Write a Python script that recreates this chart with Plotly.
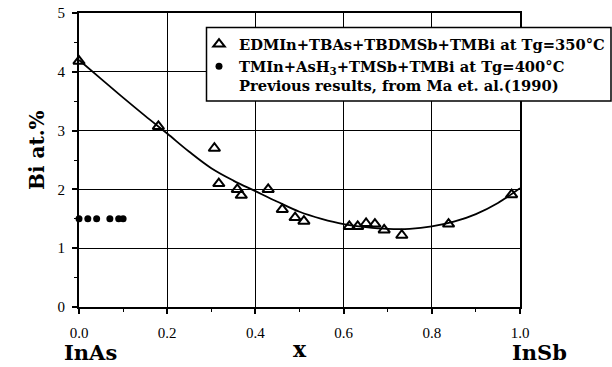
import plotly.graph_objects as go

# ---- data ----
tri_x = [0.0, 0.18, 0.307, 0.317, 0.359, 0.368, 0.429, 0.461, 0.49, 0.51,
         0.613, 0.632, 0.651, 0.671, 0.692, 0.732, 0.838, 0.981]
tri_y = [4.18, 3.07, 2.70, 2.10, 2.00, 1.90, 2.00, 1.66, 1.52, 1.46,
         1.37, 1.37, 1.42, 1.41, 1.31, 1.22, 1.41, 1.91]

dot_x = [0.0, 0.02, 0.04, 0.07, 0.09, 0.10]
dot_y = [1.5, 1.5, 1.5, 1.5, 1.5, 1.5]

fit_x = [0.0, 0.05, 0.10, 0.15, 0.20, 0.25, 0.30, 0.35, 0.40, 0.45, 0.50,
         0.55, 0.60, 0.65, 0.70, 0.75, 0.80, 0.85, 0.90, 0.95, 1.00]
fit_y = [4.20, 3.88, 3.56, 3.25, 2.95, 2.64, 2.36, 2.15, 1.97, 1.79, 1.62,
         1.50, 1.41, 1.36, 1.33, 1.33, 1.37, 1.45, 1.58, 1.77, 2.02]

x_ticks = [0.0, 0.2, 0.4, 0.6, 0.8, 1.0]
x_ticktext = ["0.0", "0.2", "0.4", "0.6", "0.8", "1.0"]
y_ticks = [0, 1, 2, 3, 4, 5]

name_new = "EDMIn+TBAs+TBDMSb+TMBi at Tg=350°C"
name_old = "TMIn+AsH<sub>3</sub>+TMSb+TMBi at Tg=400°C<br>Previous results, from Ma et. al.(1990)"

SERIF = "Liberation Serif, Times New Roman, serif"
BOLD = "DejaVu Serif, serif"

fig = go.Figure()
fig.add_trace(go.Scatter(
    x=fit_x, y=fit_y, mode="lines", line=dict(color="black", width=1.8, shape="spline"),
    showlegend=False, hoverinfo="skip"))
fig.add_trace(go.Scatter(
    x=tri_x, y=tri_y, mode="markers", name=name_new,
    marker=dict(symbol="triangle-up-open", size=10, color="black", line=dict(width=2, color="black")),
    cliponaxis=False))
fig.add_trace(go.Scatter(
    x=dot_x, y=dot_y, mode="markers", name=name_old,
    marker=dict(symbol="circle", size=7, color="black"),
    cliponaxis=False))

L, R, T, B = 79, 520, 13, 307
W, H = R - L, B - T

def px(xp):
    return (xp - L) / W

def py(yp):
    return (B - yp) / H

tickfont = dict(family=SERIF, size=15, color="black")

fig.update_layout(
    width=612, height=367,
    margin=dict(l=L, r=612 - R, t=T, b=367 - B, autoexpand=False),
    paper_bgcolor="white", plot_bgcolor="white",
    font=dict(family=SERIF, size=15, color="black"),
    showlegend=True,
    legend=dict(
        x=px(199), y=py(28), xanchor="left", yanchor="top",
        bgcolor="rgba(0,0,0,0)", borderwidth=0,
        font=dict(family=BOLD, size=14.7, weight="bold", color="black"),
        valign="top", itemwidth=30,
    ),
    xaxis=dict(
        range=[0, 1], tickvals=x_ticks, ticktext=x_ticktext, tickfont=tickfont,
        showgrid=True, gridcolor="black", gridwidth=1.2,
        showline=True, linecolor="black", linewidth=2, mirror=True,
        ticks="outside", ticklen=5, tickwidth=1.5, tickcolor="black",
        ticklabelstandoff=6,
        minor=dict(dtick=0.1, ticks="outside", ticklen=3, tickwidth=1.2, tickcolor="black", showgrid=False),
        zeroline=False,
        title=dict(text="x", font=dict(family=BOLD, size=22, weight="bold"), standoff=2),
    ),
    yaxis=dict(
        range=[0, 5], tickvals=y_ticks, tickfont=tickfont,
        showgrid=True, gridcolor="black", gridwidth=1.2,
        showline=True, linecolor="black", linewidth=2, mirror=True,
        ticks="outside", ticklen=5, tickwidth=1.5, tickcolor="black",
        ticklabelstandoff=4,
        minor=dict(dtick=0.5, ticks="outside", ticklen=3, tickwidth=1.2, tickcolor="black", showgrid=False),
        zeroline=False,
    ),
    shapes=[dict(
        type="rect", xref="paper", yref="paper",
        x0=px(206.5), x1=px(611), y0=py(101), y1=py(27.5),
        line=dict(color="black", width=1.5), fillcolor="white", layer="above",
    )],
    annotations=[
        dict(text="Bi at.%", xref="paper", yref="paper", x=px(37), y=py(150),
             textangle=-90, showarrow=False, xanchor="center", yanchor="middle",
             font=dict(family=BOLD, size=20, weight="bold")),
        dict(text="InAs", xref="paper", yref="paper", x=px(90), y=py(352),
             showarrow=False, xanchor="center", yanchor="middle",
             font=dict(family=BOLD, size=21, weight="bold")),
        dict(text="InSb", xref="paper", yref="paper", x=px(539), y=py(352),
             showarrow=False, xanchor="center", yanchor="middle",
             font=dict(family=BOLD, size=21, weight="bold")),
    ],
)

fig.write_html("out.html")
